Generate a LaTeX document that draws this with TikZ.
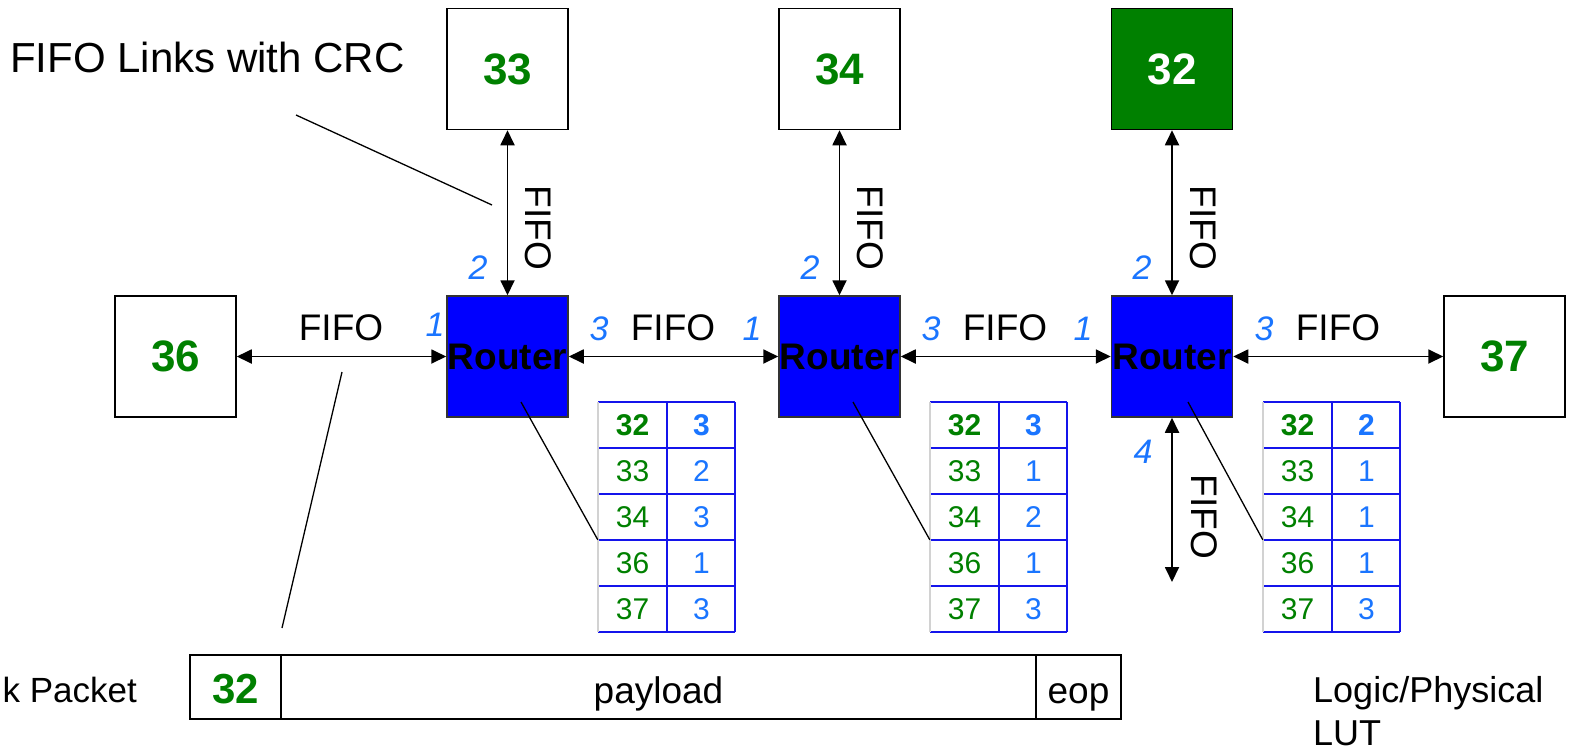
\documentclass[tikz,border=0pt]{standalone}
\usepackage{fontspec}
\setmainfont{Liberation Sans}
\usetikzlibrary{arrows.meta}
\definecolor{dgreen}{RGB}{0,128,0}
\definecolor{pblue}{RGB}{26,117,255}
\definecolor{tblue}{RGB}{20,20,235}
\newcommand{\lutable}[3]{%
  \foreach \k/\d/\p in {#3} {
    \node[cell,text=dgreen] (#1a\k) at (#2+34.5,425+46*\k-46) {\d};
    \node[cell,text=pblue] (#1b\k) at (#2+103.5,425+46*\k-46) {\p};
  }
  \foreach \k in {0,...,5} {\draw[tline] (#2,402+46*\k) -- (#2+137,402+46*\k);}
  \draw[tline] (#2+69,402) -- (#2+69,632);
  \draw[tline] (#2+137,402) -- (#2+137,632);
  \draw[gray!35,line width=1.2pt] (#2,402) -- (#2,632);
}
\begin{document}
\begin{tikzpicture}[x=1pt,y=-1pt,
  box/.style={draw=black,line width=1.5pt,minimum width=121pt,minimum height=121pt,inner sep=0pt,font=\fontsize{44}{48}\selectfont\bfseries,text=dgreen},
  router/.style={box,fill=blue,draw=black!80,text=black,font=\fontsize{37}{40}\selectfont\bfseries},
  link/.style={line width=1.8pt,{Triangle[length=15pt,width=14pt]}-{Triangle[length=15pt,width=14pt]}},
  lbl/.style={font=\fontsize{37}{40}\selectfont,inner sep=0pt},
  port/.style={font=\fontsize{34}{36}\selectfont\itshape,text=pblue,inner sep=0pt},
  cell/.style={minimum width=69pt,minimum height=46pt,inner sep=0pt,font=\fontsize{30}{32}\selectfont},
  tline/.style={tblue,line width=1.2pt},
  leader/.style={line width=1.3pt},
  pkt/.style={draw=black,line width=1.5pt,minimum height=64pt,inner sep=0pt,text height=36pt,text depth=4pt,font=\fontsize{37}{40}\selectfont}
]
\useasboundingbox (0,0) rectangle (1569,750);

% end nodes
\node[box] (b33) at (507.5,69) {33};
\node[box] (b34) at (839.5,69) {34};
\node[box,fill=dgreen,text=white] (b32) at (1172,69) {32};
\node[box] (b36) at (175.5,356.5) {36};
\node[box] (b37) at (1504.5,356.5) {37};

% routers
\node[router] (r1) at (507.5,356.5) {Router};
\node[router] (r2) at (839.5,356.5) {Router};
\node[router] (r3) at (1172,356.5) {Router};

% links
\draw[link] (b36.east) -- (r1.west);
\draw[link] (r1.east) -- (r2.west);
\draw[link] (r2.east) -- (r3.west);
\draw[link] (r3.east) -- (b37.west);
\draw[link] (b33.south) -- (r1.north);
\draw[link] (b34.south) -- (r2.north);
\draw[link] (b32.south) -- (r3.north);
\coordinate (c4) at (1172,582);
\draw[link] (r3.south) -- (c4);

% FIFO labels
\node[lbl] (f1) at (341,328) {FIFO};
\node[lbl] (f2) at (673,328) {FIFO};
\node[lbl] (f3) at (1005,328) {FIFO};
\node[lbl] (f4) at (1338,328) {FIFO};
\node[lbl,rotate=-90] (fv1) at (538,228) {FIFO};
\node[lbl,rotate=-90] (fv2) at (870,228) {FIFO};
\node[lbl,rotate=-90] (fv3) at (1203,228) {FIFO};
\node[lbl,rotate=-90] (fv4) at (1204,517) {FIFO};

% port numbers
\node[port] (p11) at (435,325) {1};
\node[port] (p13) at (599,329) {3};
\node[port] (p21) at (752,329) {1};
\node[port] (p23) at (931,329) {3};
\node[port] (p31) at (1083,329) {1};
\node[port] (p33) at (1264,329) {3};
\node[port] (p12) at (478,268) {2};
\node[port] (p22) at (810,268) {2};
\node[port] (p32) at (1142,268) {2};
\node[port] (p34) at (1143,452) {4};

% tables
\lutable{t1}{598}{1/\bfseries 32/\bfseries 3,2/33/2,3/34/3,4/36/1,5/37/3}
\lutable{t2}{930}{1/\bfseries 32/\bfseries 3,2/33/1,3/34/2,4/36/1,5/37/3}
\lutable{t3}{1263}{1/\bfseries 32/\bfseries 2,2/33/1,3/34/1,4/36/1,5/37/3}

% leaders from routers to tables
\coordinate (l1) at (521,402);
\coordinate (l2) at (853,402);
\coordinate (l3) at (1188,402);
\draw[leader] (l1) -- (t1a4.north west);
\draw[leader] (l2) -- (t2a4.north west);
\draw[leader] (l3) -- (t3a4.north west);

% packet
\node[pkt,minimum width=91pt,font=\fontsize{42}{44}\selectfont\bfseries,text=dgreen] (pk1) at (235.5,687) {32};
\node[pkt,minimum width=755pt] (pk2) at (658.5,687) {payload};
\node[pkt,minimum width=85pt] (pk3) at (1078.5,687) {eop};

% annotations
\node[lbl,font=\fontsize{42}{46}\selectfont,anchor=west] (crc) at (10,57) {FIFO Links with CRC};
\coordinate (crcA) at (296,115);
\coordinate (crcB) at (492,205);
\draw[leader] (crcA) -- (crcB);
\coordinate (pkA) at (342,372);
\coordinate (pkB) at (282,628);
\draw[leader] (pkA) -- (pkB);
\node[lbl,font=\fontsize{35}{40}\selectfont,anchor=east] (lp) at (137,690) {k Packet};
\node[lbl,anchor=base west,align=left,font=\fontsize{36}{43}\selectfont] (lut) at (1313,745) {Logic/Physical\\LUT};
\end{tikzpicture}
\end{document}
